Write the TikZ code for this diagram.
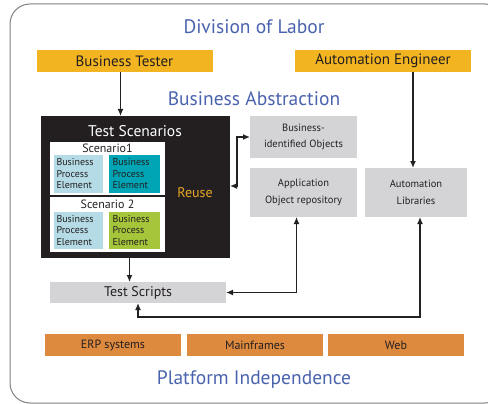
\documentclass[tikz,border=0pt]{standalone}
\usepackage{fontspec}
\setmainfont{PT Sans}
\usepackage{xcolor}
\usetikzlibrary{arrows.meta, positioning, calc}
\definecolor{roleyellow}{HTML}{F2B420}
\definecolor{platorange}{HTML}{DE8A3E}
\definecolor{bpeblue}{HTML}{B5DCE6}
\definecolor{bpeteal}{HTML}{00A5B5}
\definecolor{bpegreen}{HTML}{A5C53A}
\definecolor{boxgrey}{HTML}{D4D4D6}
\definecolor{scenblack}{HTML}{231F20}
\definecolor{titleblue}{HTML}{4A63AE}
\definecolor{reuseorange}{HTML}{E8A626}
\definecolor{linedark}{HTML}{222222}

\begin{document}
\begin{tikzpicture}[x=1pt, y=-1pt,
    every node/.style={inner sep=0pt, outer sep=0pt, text=scenblack},
    role/.style={fill=roleyellow, minimum width=176, minimum height=22, font=\fontsize{15}{16}\selectfont},
    plat/.style={fill=platorange, minimum width=136, minimum height=22, font=\fontsize{12}{13}\selectfont},
    greybox/.style={fill=boxgrey, minimum width=107, align=center, font=\fontsize{10.5}{16.5}\selectfont},
    bpe/.style={minimum height=38, text width=44, align=left, font=\fontsize{10}{11.5}\selectfont},
    scenbox/.style={fill=white, minimum width=115},
    heading/.style={text=titleblue, font=\fontsize{19.5}{20}\selectfont},
    link/.style={draw=linedark, line width=1.4pt, -{Latex[length=7pt, width=6pt]}},
    biglink/.style={link, {Latex[length=7pt, width=6pt]}-{Latex[length=7pt, width=6pt]}}]
    \useasboundingbox (0,0) rectangle (488,404);
    \draw[gray, line width=1pt, rounded corners=20pt] (10,4) rectangle (505,403);
    \node[heading] (labor) at (254,27) {Division of Labor};
    \node[role] (tester) at (124.5,61) {Business Tester};
    \node[role] (engineer) at (383,61) {Automation Engineer};
    \node[heading] (abstraction) at (254,99) {Business Abstraction};
    \node[fill=scenblack, minimum width=189, minimum height=142] (scen) at (135.5,187) {};
    \node[text=white, font=\fontsize{15.5}{16}\selectfont] (scentitle) at (135,131) {Test Scenarios};
    \node[scenbox, minimum height=53] (sc1) at (107.5,168.5) {};
    \node[font=\fontsize{12}{13}\selectfont] (sc1title) at (107.5,148) {Scenario1};
    \node[bpe, fill=bpeblue, minimum width=49] (bpe1a) at (78.5,174) {Business\\Process\\Element};
    \node[bpe, fill=bpeteal, minimum width=51] (bpe1b) at (134.5,174) {Business\\Process\\Element};
    \node[scenbox, minimum height=55] (sc2) at (107.5,224.5) {};
    \node[font=\fontsize{12}{13}\selectfont] (sc2title) at (107.5,204) {Scenario 2};
    \node[bpe, fill=bpeblue, minimum width=49, minimum height=37] (bpe2a) at (78.5,230.5) {Business\\Process\\Element};
    \node[bpe, fill=bpegreen, minimum width=51, minimum height=37] (bpe2b) at (134.5,230.5) {Business\\Process\\Element};
    \node[text=reuseorange, font=\fontsize{14}{15}\selectfont] (reuse) at (195,193) {Reuse};
    \node[greybox, minimum height=42] (bio) at (303.5,137) {Business-\\identified Objects};
    \node[greybox, minimum height=49] (repo) at (303.5,192.5) {Application\\Object repository};
    \node[greybox, minimum width=102, minimum height=49] (libs) at (416,192.5) {Automation\\Libraries};
    \node[fill=boxgrey, minimum width=176, minimum height=21, font=\fontsize{14}{15}\selectfont] (scripts) at (138,292.5) {Test Scripts};
    \node[plat] (erp) at (113,345) {ERP systems};
    \node[plat] (mainframes) at (255,345) {Mainframes};
    \node[plat] (web) at (396,345) {Web};
    \node[heading] (platform) at (254,380) {Platform Independence};
    \draw[link] ([xshift=-4]tester.south) -- ([xshift=-4]tester.south |- scen.north);
    \draw[link] ([xshift=-3]libs.north |- engineer.south) -- ([xshift=-3]libs.north);
    \draw[biglink] ([yshift=1]scen.east) -- ++(7,0) |- (bio.west);
    \draw[link] ([xshift=-6]scen.south) -- ([xshift=-6]scen.south |- scripts.north);
    \draw[biglink] ([xshift=-7]repo.south) |- (scripts.east);
    \draw[biglink] ([xshift=4]libs.south) -- ++(0,100) -| (scripts.south);
\end{tikzpicture}
\end{document}
